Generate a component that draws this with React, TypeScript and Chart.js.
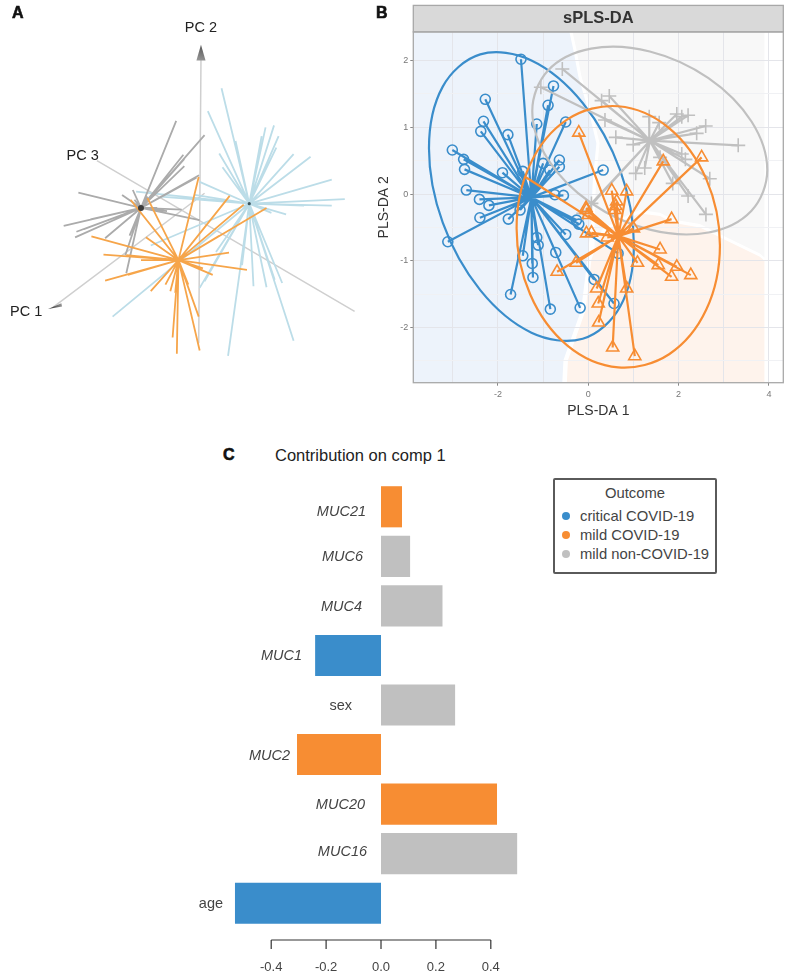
import React, { useEffect, useRef } from "react";
import { Chart, registerables } from "chart.js";

Chart.register(...registerables);

const FONT = '"Liberation Sans", Arial, sans-serif';
const BLUE = "#3a8dcb";
const ORANGE = "#f78d33";
const GRAY = "#c0c0c0";
type P = [number, number];

/* ---------- Panel A: PCA star plot (plane coordinates) ---------- */
const pcaGrayCenter: P = [420, 625];
const pcaGrayEnds: P[] = [[528,358],[615,402],[550,462],[553,475],[553,497],[598,525],[590,532],[228,578],[362,585],[395,570],[183,680],[265,660],[222,698],[218,715],[245,690],[310,718],[375,825],[372,770],[385,710],[545,630],[500,635],[470,625],[600,662],[400,600],[440,590]];
const pcaBlueCenter: P = [752, 612];
const pcaBlueEnds: P[] = [[667,258],[625,328],[710,420],[660,458],[670,500],[790,405],[802,378],[828,372],[842,405],[835,440],[888,460],[940,468],[1005,538],[1045,598],[1005,618],[920,618],[865,645],[820,640],[405,575],[585,585],[480,590],[600,545],[333,958],[600,870],[450,740],[615,850],[765,865],[805,868],[853,855],[830,845],[888,1032],[687,1078],[730,800],[650,760]];
const pcaOrangeCenter: P = [535, 785];
const pcaOrangeEnds: P[] = [[268,712],[305,768],[310,848],[380,830],[420,785],[375,770],[435,715],[388,600],[440,595],[597,530],[558,690],[692,588],[735,615],[805,625],[660,710],[690,762],[745,815],[640,830],[610,810],[450,880],[495,860],[510,880],[525,885],[517,1022],[530,1072],[600,1062],[597,958],[565,860]];
const pcAxisLines: P[][] = [[[604,170],[597,1040]],[[150,930],[615,580]],[[285,480],[1075,942]]];
const pcCones: P[][] = [[[604,125],[590,173],[618,173]],[[135,935],[176,917],[178,927]]];
const pcLabels = ["PC 2", "PC 3", "PC 1"];
const pcLabelSpots: P[] = [[604,75],[241,465],[68,943]];

/* ---------- Panel B: sPLS-DA ---------- */
const plsXTicks = [-3,-2,-1,0,1,2,3,4];
const plsYTicks = [-2.5,-2,-1.5,-1,-0.5,0,0.5,1,1.5,2];
const plsBlueCenter: P = [-1.26,-0.05];
const plsBluePoints: P[] = [[-1.49,2.02],[-0.77,1.62],[-0.89,1.33],[-2.28,1.42],[-1.14,1.05],[-0.5,1.08],[-2.32,1.09],[-2.38,0.94],[-1.78,0.89],[-3.01,0.66],[-2.76,0.52],[-2.74,0.37],[-1.9,0.32],[-1.45,0.34],[-1,0.46],[-0.64,0.51],[-0.64,0.41],[-0.85,0.36],[0.33,0.36],[-2.7,0.06],[-2.41,-0.08],[-2.2,-0.17],[-0.55,-0.02],[-0.74,-0.01],[-2.4,-0.355],[-1.77,-0.375],[-1.51,-0.24],[-3.11,-0.715],[-1.45,-0.925],[-1.24,-1.04],[-1.225,-1.25],[-1.14,-0.65],[-1.11,-0.765],[-0.72,-0.875],[-1.72,-1.505],[-0.84,-1.725],[-0.18,-1.705],[-0.5,-0.605],[-0.26,-0.39],[-0.21,-0.45],[0.13,-1.28],[0.57,-1.64],[0.66,-0.89]];
const plsOrangeCenter: P = [0.664,-0.63];
const plsOrangePoints: P[] = [[-0.21,0.92],[2.51,0.55],[1.66,0.49],[0.52,0.05],[0.85,0.04],[0.63,-0.11],[-0.05,-0.21],[0.61,-0.18],[1.845,-0.375],[-0.04,-0.24],[0,-0.315],[-0.04,-0.59],[0.07,-0.58],[0.42,-0.65],[1,-0.515],[1.59,-0.83],[1.09,-1.03],[1.55,-1.065],[1.96,-1.09],[1.845,-1.24],[2.27,-1.215],[-0.27,-1.03],[-0.69,-1.165],[0.185,-1.415],[0.85,-1.415],[0.22,-1.64],[0.23,-1.925],[0.54,-2.3],[1.03,-2.43],[0.59,-0.24]];
const plsOrangeHiddenEnds: P[] = [[-1.4,0.26]];
const plsGrayCenter: P = [1.365,0.8];
const plsGrayPoints: P[] = [[-0.575,1.875],[-1.05,1.6],[0.465,1.47],[0.295,1.4],[0.37,1.11],[0.61,0.85],[0.995,0.74],[1.35,1.16],[1.57,1.07],[1.96,1.2],[2.07,1.16],[2.21,1.18],[2.6,1.02],[2.4,0.91],[3.32,0.73],[2.07,0.6],[2.15,0.52],[1.59,0.55],[2.69,0.23],[1.87,0.16],[2.21,-0.03],[1.25,0.39],[1.05,0.31],[2.605,-0.305],[0.07,-0.14],[-0.11,-0.29]];
const blueEllipse: P[] = [[1.01,-0.763],[0.707,-1.685],[-0.123,-2.168],[-1.258,-2.077],[-2.392,-1.44],[-3.222,-0.429],[-3.527,0.688],[-3.222,1.61],[-2.392,2.093],[-1.258,2.002],[-0.123,1.365],[0.707,0.354]];
const grayEllipse: P[] = [[3.963,0.36],[3.614,-0.249],[2.662,-0.576],[1.362,-0.534],[0.061,-0.134],[-0.891,0.516],[-1.24,1.243],[-0.891,1.853],[0.061,2.179],[1.362,2.137],[2.662,1.737],[3.614,1.087]];
const orangeEllipse: P[] = [[2.915,-0.77],[2.613,-1.731],[1.79,-2.4],[0.664,-2.598],[-0.462,-2.271],[-1.285,-1.506],[-1.587,-0.512],[-1.285,0.449],[-0.462,1.118],[0.664,1.316],[1.79,0.989],[2.613,0.224]];
const blueRegion: P[] = [[-3.9,-2.9],[-3.9,2.5],[-0.44,2.5],[-0.33,2.16],[-0.22,1.76],[0.04,1.16],[0.18,0.76],[0.1,0.2],[0.05,-0.5],[-0.01,-0.94],[-0.16,-1.74],[-0.55,-2.49],[-0.58,-2.9]];
const orangeRegion: P[] = [[-0.48,-2.9],[-0.45,-2.49],[-0.06,-1.74],[0.07,-0.98],[0.26,-0.62],[0.7,-0.42],[1.14,-0.29],[1.59,-0.33],[1.87,-0.43],[2.47,-0.5],[3.07,-0.7],[3.8,-0.94],[3.9,-1],[3.9,-2.9]];
const grayRegion: P[] = [[-0.37,2.5],[3.9,2.5],[3.9,-0.95],[3.8,-0.89],[3.07,-0.65],[2.47,-0.45],[1.87,-0.38],[1.59,-0.28],[1.14,-0.24],[0.7,-0.37],[0.3,-0.54],[0.14,-0.85],[0.14,-0.5],[0.17,0.2],[0.25,0.76],[0.11,1.16],[-0.15,1.76],[-0.26,2.16]];

/* ---------- Panel C: contributions ---------- */
const features = ["MUC21","MUC6","MUC4","MUC1","sex","MUC2","MUC20","MUC16","age"];
const contributions = [0.0765,0.106,0.224,-0.24,0.27,-0.306,0.4226,0.496,-0.532];
const featureOutcome = [1,2,2,0,2,1,1,2,0];
const contribTicks = [-0.4,-0.2,0,0.2,0.4];
const outcomes = ["critical COVID-19","mild COVID-19","mild non-COVID-19"];
const outcomeColors = [BLUE, ORANGE, GRAY];
// right edge of each hand-placed feature label, in pixels left of the zero line
const labelInset = [15,18,19,79,29,91,16,14,158];
const labelNudge = [5,1,1,1,1,1,1,-2,1];

const rays = (c: P, ends: P[]) => ends.flatMap(([x, y]) => [{ x: c[0], y: c[1] }, { x, y }, { x: NaN, y: NaN }]);
const pts = (a: P[]) => a.map(([x, y]) => ({ x, y }));
const rayDs = (data: any[], color: string, width: number) => ({ data, showLine: true, spanGaps: false, borderColor: color, borderWidth: width, pointRadius: 0 });
const markDs = (data: any[], style: string, color: string, radius: number, width = 1.6) => ({ data, showLine: false, pointStyle: style, pointRadius: radius, pointBackgroundColor: "rgba(0,0,0,0)", pointBorderColor: color, pointBorderWidth: width });
// the ring is walked one step past both ends so the spline has no seam; those two steps stay unpainted
const ringDs = (ring: P[], color: string) => {
  const data = pts([ring[ring.length - 1], ...ring, ring[0], ring[1]]);
  const last = data.length - 1;
  return {
    data, showLine: true, tension: 0.35, borderColor: color, borderWidth: 2.2, pointRadius: 0,
    segment: { borderColor: (k: any) => (k.p0DataIndex === 0 || k.p1DataIndex === last ? "rgba(0,0,0,0)" : undefined) },
  };
};

function poly(chart: any, ring: P[]) {
  const { ctx, scales: { x, y } } = chart;
  ctx.beginPath();
  ring.forEach(([a, b], i) => {
    const px = x.getPixelForValue(a), py = y.getPixelForValue(b);
    i ? ctx.lineTo(px, py) : ctx.moveTo(px, py);
  });
  ctx.closePath();
}

const pcaPlugin = {
  id: "pcaDecor",
  beforeDatasetsDraw(chart: any) {
    const { ctx } = chart;
    ctx.save();
    ctx.strokeStyle = "#cfcfcf";
    ctx.lineWidth = 1.5;
    pcAxisLines.forEach((l) => { poly(chart, l); ctx.stroke(); });
    ctx.restore();
  },
  afterDatasetsDraw(chart: any) {
    const { ctx, scales: { x, y } } = chart;
    ctx.save();
    pcCones.forEach((c, i) => {
      const g = ctx.createLinearGradient(x.getPixelForValue(c[0][0]), y.getPixelForValue(c[0][1]), x.getPixelForValue(c[1][0]), y.getPixelForValue(c[1][1]));
      g.addColorStop(0, i ? "#222" : "#555");
      g.addColorStop(1, "#999");
      ctx.fillStyle = g;
      poly(chart, c);
      ctx.fill();
    });
    ctx.fillStyle = "#222";
    ctx.font = `14.5px ${FONT}`;
    ctx.textAlign = "center";
    ctx.textBaseline = "middle";
    pcLabels.forEach((t, i) => ctx.fillText(t, x.getPixelForValue(pcLabelSpots[i][0]), y.getPixelForValue(pcLabelSpots[i][1])));
    ctx.restore();
  },
};

const plsPlugin = {
  id: "plsDecor",
  beforeDraw(chart: any) {
    const { ctx, chartArea: a } = chart;
    ctx.save();
    ctx.beginPath();
    ctx.rect(a.left, a.top, a.right - a.left, a.bottom - a.top);
    ctx.clip();
    ([[blueRegion, "#edf3fb"], [grayRegion, "#f8f8f8"], [orangeRegion, "#fef3ec"]] as [P[], string][]).forEach(([r, c]) => {
      ctx.fillStyle = c;
      poly(chart, r);
      ctx.fill();
    });
    ctx.restore();
    ctx.save();
    ctx.fillStyle = "#d9d9d9";
    ctx.fillRect(a.left, a.top - 26.5, a.right - a.left, 26.5);
    ctx.restore();
  },
  afterDraw(chart: any) {
    const { ctx, chartArea: a } = chart;
    ctx.save();
    ctx.strokeStyle = "#a8a8a8";
    ctx.lineWidth = 1.3;
    ctx.strokeRect(a.left, a.top, a.right - a.left, a.bottom - a.top);
    ctx.strokeRect(a.left, a.top - 26.5, a.right - a.left, 26.5);
    ctx.restore();
  },
};

const barPlugin = {
  id: "barDecor",
  afterDraw(chart: any) {
    const { ctx, scales: { x, y } } = chart;
    const axisY = y.bottom + 12;
    ctx.save();
    ctx.strokeStyle = "#333";
    ctx.lineWidth = 1.2;
    ctx.beginPath();
    ctx.moveTo(x.getPixelForValue(contribTicks[0]), axisY);
    ctx.lineTo(x.getPixelForValue(contribTicks[contribTicks.length - 1]), axisY);
    contribTicks.forEach((v) => {
      const px = x.getPixelForValue(v);
      ctx.moveTo(px, axisY);
      ctx.lineTo(px, axisY + 9);
    });
    ctx.stroke();
    ctx.fillStyle = "#444";
    ctx.textAlign = "right";
    ctx.textBaseline = "middle";
    features.forEach((f, i) => {
      ctx.font = `${f.startsWith("MUC") ? "italic " : ""}14.5px ${FONT}`;
      ctx.fillText(f, x.getPixelForValue(0) - labelInset[i], y.getPixelForTick(i) + labelNudge[i]);
    });
    ctx.restore();
  },
};

function useChart(make: (c: HTMLCanvasElement) => Chart) {
  const ref = useRef<HTMLCanvasElement | null>(null);
  useEffect(() => {
    const chart = make(ref.current!);
    return () => chart.destroy();
  }, []);
  return ref;
}

const base = { responsive: false, animation: false as const, events: [] as any[] };

function makePca(c: HTMLCanvasElement) {
  return new Chart(c, {
    type: "scatter",
    plugins: [pcaPlugin],
    data: {
      datasets: [
        { data: pts([pcaGrayCenter]), pointRadius: 3, pointBackgroundColor: "#3c3c3c", pointBorderWidth: 0 },
        { data: pts([pcaBlueCenter]), pointRadius: 1.6, pointBackgroundColor: "#3c5660", pointBorderWidth: 0 },
        rayDs(rays(pcaOrangeCenter, pcaOrangeEnds), "#f6a54a", 1.8),
        rayDs(rays(pcaGrayCenter, pcaGrayEnds), "#ababab", 1.8),
        rayDs(rays(pcaBlueCenter, pcaBlueEnds), "#bcdde8", 1.8),
      ] as any,
    },
    options: {
      ...base,
      layout: { padding: 0 },
      plugins: { legend: { display: false }, title: { display: false }, tooltip: { enabled: false } },
      scales: {
        x: { display: false, min: 0, max: 1110 },
        y: { display: false, min: 0, max: 1140, reverse: true },
      },
    } as any,
  });
}

function makePls(c: HTMLCanvasElement) {
  return new Chart(c, {
    type: "scatter",
    plugins: [plsPlugin],
    data: {
      datasets: [
        markDs(pts(plsOrangePoints), "triangle", ORANGE, 7),
        rayDs([...rays(plsOrangeCenter, plsOrangePoints), ...rays(plsOrangeCenter, plsOrangeHiddenEnds)], ORANGE, 2.2),
        ringDs(orangeEllipse, ORANGE),
        markDs(pts(plsGrayPoints), "cross", GRAY, 7),
        rayDs(rays(plsGrayCenter, plsGrayPoints), GRAY, 2.2),
        ringDs(grayEllipse, GRAY),
        markDs(pts(plsBluePoints), "circle", BLUE, 5),
        rayDs(rays(plsBlueCenter, plsBluePoints), BLUE, 2.2),
        ringDs(blueEllipse, BLUE),
      ] as any,
    },
    options: {
      ...base,
      layout: { padding: { top: 5.3, right: 13.7 } },
      plugins: {
        legend: { display: false },
        tooltip: { enabled: false },
        title: { display: true, fullSize: false, text: "sPLS-DA", color: "#333", font: { family: FONT, size: 16.5, weight: "bold" }, padding: { top: 3.4, bottom: 3.4 } },
      },
      scales: {
        x: {
          type: "linear", min: -3.874, max: 4.318,
          afterBuildTicks: (s: any) => { s.ticks = plsXTicks.map((value) => ({ value })); },
          afterFit: (s: any) => { s.height = 47.3; },
          border: { display: false },
          grid: { color: "#e4e5ea", lineWidth: 1, tickLength: 3, tickColor: (k: any) => (k.tick && k.tick.value % 2 === 0 ? "#888" : "rgba(0,0,0,0)") },
          ticks: { color: "#777", font: { family: FONT, size: 9 }, padding: 3, maxRotation: 0, autoSkip: false, callback: (v: any) => (v % 2 === 0 ? String(v) : "") },
          title: { display: true, text: "PLS-DA 1", color: "#333", font: { family: FONT, size: 14 }, padding: { top: 0, bottom: 10 } },
        },
        y: {
          type: "linear", min: -2.827, max: 2.43,
          afterBuildTicks: (s: any) => { s.ticks = plsYTicks.map((value) => ({ value })); },
          afterFit: (s: any) => { s.width = 43.3; },
          border: { display: false },
          grid: { color: (k: any) => (k.tick && Number.isInteger(k.tick.value) ? "#e4e5ea" : "#f0f1f4"), lineWidth: 1, tickLength: 3, tickColor: (k: any) => (k.tick && Number.isInteger(k.tick.value) ? "#888" : "rgba(0,0,0,0)") },
          ticks: { color: "#777", font: { family: FONT, size: 9 }, padding: 2, autoSkip: false, callback: (v: any) => (Number.isInteger(v) ? String(v) : "") },
          title: { display: true, text: "PLS-DA 2", color: "#333", font: { family: FONT, size: 14 }, padding: { top: 6, bottom: 0 } },
        },
      },
    } as any,
  });
}

function makeBars(c: HTMLCanvasElement) {
  return new Chart(c, {
    type: "bar",
    plugins: [barPlugin],
    data: {
      labels: features,
      datasets: [{
        data: contributions,
        backgroundColor: featureOutcome.map((o) => outcomeColors[o]),
        barPercentage: 0.83,
        categoryPercentage: 1,
      }],
    },
    options: {
      ...base,
      indexAxis: "y",
      layout: { padding: { top: 12, left: 200, right: 257 } },
      plugins: { legend: { display: false }, title: { display: false }, tooltip: { enabled: false } },
      scales: {
        x: {
          type: "linear", min: -0.6594, max: 0.5792,
          afterBuildTicks: (s: any) => { s.ticks = contribTicks.map((value) => ({ value })); },
          afterFit: (s: any) => { s.height = 44; },
          border: { display: false },
          grid: { display: false },
          ticks: { color: "#444", font: { family: FONT, size: 13 }, padding: 24, maxRotation: 0, autoSkip: false, callback: (v: any) => Number(v).toFixed(1) },
        },
        y: {
          type: "category",
          afterFit: (s: any) => { s.width = 0; },
          border: { display: false },
          grid: { display: false },
          ticks: { display: false },
        },
      },
    } as any,
  });
}

const abs = (left: number, top: number): React.CSSProperties => ({ position: "absolute", left, top });
const letter = (t: string, left: number, top: number) => (
  <div style={{ ...abs(left, top), font: `900 16px ${FONT}`, lineHeight: "16px", color: "#111", WebkitTextStroke: "0.6px #111" }}>{t}</div>
);

export default function App() {
  const a = useChart(makePca);
  const b = useChart(makePls);
  const c = useChart(makeBars);
  return (
    <div style={{ position: "absolute", left: 0, top: 0, width: 797, height: 972, overflow: "hidden", background: "#fff" }}>
      <canvas ref={a} width={370} height={380} style={{ ...abs(0, 0), display: "block" }} />
      <canvas ref={b} width={427} height={430} style={{ ...abs(370, 0), display: "block" }} />
      <canvas ref={c} width={797} height={502} style={{ ...abs(0, 470), display: "block" }} />
      {letter("A", 12, 5)}
      {letter("B", 376, 5)}
      {letter("C", 223, 447)}
      <div style={{ ...abs(275, 445), font: `16.5px ${FONT}`, lineHeight: "20px", color: "#222" }}>Contribution on comp 1</div>
      <div style={{ ...abs(553, 478), width: 164, height: 96, boxSizing: "border-box", border: "2px solid #5a5a5a", borderRadius: 2, background: "#fff", color: "#444", font: `14.8px ${FONT}` }}>
        <div style={{ position: "absolute", left: 0, right: 0, top: 5, textAlign: "center", lineHeight: "17px" }}>Outcome</div>
        {outcomes.map((o, i) => (
          <div key={o} style={{ position: "absolute", left: 0, top: 28 + i * 19, lineHeight: "17px", whiteSpace: "nowrap" }}>
            <span style={{ position: "absolute", left: 7, top: 4, width: 8, height: 8, borderRadius: 4, background: outcomeColors[i] }} />
            <span style={{ position: "absolute", left: 25, top: 0 }}>{o}</span>
          </div>
        ))}
      </div>
    </div>
  );
}
